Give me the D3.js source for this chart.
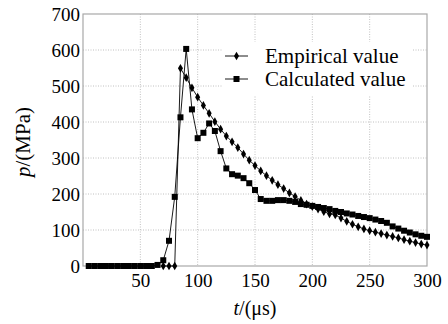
<!DOCTYPE html>
<html>
<head>
<meta charset="UTF-8">
<title>p-t curve</title>
<script src="https://d3js.org/d3.v7.min.js"></script>
<style>
    body { margin: 0; background: #fff; }
    text { font-family: 'Liberation Serif', 'DejaVu Serif', serif; }
</style>
</head>
<body>
<svg width="448" height="324"></svg>
<script>
// calculated value (squares), t in us
var calcT = [5, 10, 15, 20, 25, 30, 35, 40, 45, 50, 55, 60, 65, 70, 75, 80, 85, 90, 95, 100,
    105, 110, 115, 120, 125, 130, 135, 140, 145, 150, 155, 160, 165, 170, 175, 180, 185, 190, 195, 200,
    205, 210, 215, 220, 225, 230, 235, 240, 245, 250, 255, 260, 265, 270, 275, 280, 285, 290, 295, 300];
var calcP = [0, 0, 0, 0, 0, 0, 0, 0, 0, 0, 0, 0, 3, 16, 70, 192, 413, 603, 435, 355,
    370, 396, 375, 319, 271, 255, 251, 244, 230, 211, 186, 181, 181, 183, 183, 181, 178, 172, 170, 167,
    164, 161, 158, 153, 150, 146, 143, 139, 136, 133, 129, 125, 120, 110, 104, 98, 93, 88, 84, 81];

// empirical value (diamonds)
var empT = [70, 75, 80, 85, 90, 95, 100, 105, 110, 115, 120, 125, 130, 135, 140, 145, 150, 155, 160,
    165, 170, 175, 180, 185, 190, 195, 200, 205, 210, 215, 220, 225, 230, 235, 240, 245, 250,
    255, 260, 265, 270, 275, 280, 285, 290, 295, 300];
var empP = [0, 0, 0, 549, 523, 495, 469, 446, 424, 401, 380, 361, 345, 329, 311, 294, 279, 264, 251,
    238, 226, 215, 203, 193, 182, 172, 165, 158, 151, 145, 142, 133, 124, 116, 109, 103, 98,
    94, 90, 86, 82, 78, 73, 69, 65, 61, 58];

var xTicks = [50, 100, 150, 200, 250, 300];
var yTicks = [0, 100, 200, 300, 400, 500, 600, 700];
var seriesNames = ["Empirical value", "Calculated value"];

var serif = "Liberation Serif, DejaVu Serif, serif";
var svg = d3.select("svg");
var margin = {top: 14, right: 21, bottom: 58, left: 83};
var W = +svg.attr("width"), H = +svg.attr("height");
var w = W - margin.left - margin.right, h = H - margin.top - margin.bottom;

var x = d3.scaleLinear().domain([0, 300]).range([0, w]);
var y = d3.scaleLinear().domain([0, 700]).range([h, 0]);

var g = svg.append("g").attr("transform", "translate(" + margin.left + "," + margin.top + ")");

// grid
g.append("g").selectAll("line").data(xTicks.slice(0, -1)).enter().append("line")
    .attr("x1", function(d) { return x(d); }).attr("x2", function(d) { return x(d); })
    .attr("y1", 0).attr("y2", h)
    .attr("stroke", "#b0b0b0").attr("stroke-width", 0.8).attr("stroke-dasharray", "1,1.5");
g.append("g").selectAll("line").data(yTicks.slice(1, -1)).enter().append("line")
    .attr("y1", function(d) { return y(d); }).attr("y2", function(d) { return y(d); })
    .attr("x1", 0).attr("x2", w)
    .attr("stroke", "#b0b0b0").attr("stroke-width", 0.8).attr("stroke-dasharray", "1,1.5");

// legend background hides grid
g.append("rect").attr("x", 139).attr("y", 28).attr("width", 190).attr("height", 53).attr("fill", "#fff");

// axes
var xAxis = d3.axisBottom(x).tickValues(xTicks).tickSize(0).tickPadding(8);
var yAxis = d3.axisLeft(y).tickValues(yTicks).tickSize(0).tickPadding(3);
var gx = g.append("g").attr("transform", "translate(0," + h + ")").call(xAxis);
var gy = g.append("g").call(yAxis);
[gx, gy].forEach(function(a) {
    a.attr("font-family", serif);
    a.select(".domain").remove();
    a.selectAll("text").attr("font-size", "19px").attr("fill", "#000");
});
gx.selectAll("text").attr("dy", "0.71em");

g.append("rect").attr("x", 0).attr("y", 0).attr("width", w).attr("height", h)
    .attr("fill", "none").attr("stroke", "#a8a8a8").attr("stroke-width", 1.2);

// lines
var line = d3.line().x(function(d) { return x(d[0]); }).y(function(d) { return y(d[1]); });
var empData = d3.zip(empT, empP), calcData = d3.zip(calcT, calcP);

g.append("path").datum(empData).attr("d", line).attr("fill", "none").attr("stroke", "#000").attr("stroke-width", 0.9);
g.append("path").datum(calcData).attr("d", line).attr("fill", "none").attr("stroke", "#000").attr("stroke-width", 0.9);

var diamond = d3.symbol().type(d3.symbolDiamond).size(22);
g.append("g").selectAll("path").data(empData).enter().append("path")
    .attr("d", diamond)
    .attr("transform", function(d) { return "translate(" + x(d[0]) + "," + y(d[1]) + ")"; })
    .attr("fill", "#000");
g.append("g").selectAll("rect").data(calcData).enter().append("rect")
    .attr("x", function(d) { return x(d[0]) - 3; })
    .attr("y", function(d) { return y(d[1]) - 3; })
    .attr("width", 6).attr("height", 6).attr("fill", "#000");

// legend
var leg = g.append("g").attr("transform", "translate(142,42)");
seriesNames.forEach(function(name, i) {
    var row = leg.append("g").attr("transform", "translate(0," + (i * 23) + ")");
    row.append("line").attr("x1", 0).attr("x2", 23).attr("y1", 0).attr("y2", 0)
        .attr("stroke", "#000").attr("stroke-width", 0.9);
    if (i === 0) {
        row.append("path").attr("d", diamond).attr("transform", "translate(11.5,0)").attr("fill", "#000");
    } else {
        row.append("rect").attr("x", 8.5).attr("y", -3).attr("width", 6).attr("height", 6).attr("fill", "#000");
    }
    row.append("text").attr("x", 40).attr("y", 7).attr("font-family", serif)
        .attr("font-size", "21px").attr("fill", "#000").text(name);
});

// axis titles
var xt = svg.append("text").attr("x", margin.left + x(150)).attr("y", 315).attr("font-family", serif)
    .attr("text-anchor", "middle").attr("font-size", "20px");
xt.append("tspan").attr("font-style", "italic").text("t");
xt.append("tspan").text("/(μs)");

var yt = svg.append("text").attr("transform", "translate(30," + (margin.top + y(350) + 2) + ") rotate(-90)")
    .attr("text-anchor", "middle").attr("font-size", "21px").attr("font-family", serif);
yt.append("tspan").attr("font-style", "italic").text("p");
yt.append("tspan").text("/(MPa)");
</script>
</body>
</html>
